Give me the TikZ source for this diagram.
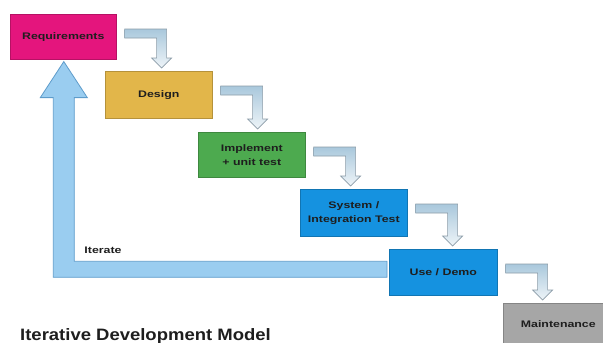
\documentclass[tikz,border=0pt]{standalone}
\usepackage{fontspec}
\usetikzlibrary{calc}
\newfontfamily\boxfont[FakeStretch=1.3]{Liberation Sans}
\newfontfamily\titlefont[FakeStretch=1.12]{Liberation Sans}
\definecolor{reqc}{HTML}{E4157D}
\definecolor{desc}{HTML}{E2B64A}
\definecolor{impc}{HTML}{4DAA4F}
\definecolor{sysc}{HTML}{1592E0}
\definecolor{mntc}{HTML}{A6A6A6}
\definecolor{arrtop}{HTML}{A9C8DC}
\definecolor{arrbot}{HTML}{EEF4F8}
\definecolor{arredge}{HTML}{8C9CA8}
\definecolor{itfill}{HTML}{9ACDF0}
\definecolor{itedge}{HTML}{5E9CCB}
\definecolor{txt}{HTML}{1E1E1E}
\tikzset{
  stagebox/.style={draw=#1!80!black, fill=#1, line width=0.6pt, anchor=north west,
    inner sep=0pt, align=center, text=txt,
    font=\boxfont\bfseries\fontsize{9.5}{14}\selectfont},
  flowarrow/.style={draw=arredge, line width=0.6pt, top color=arrtop, bottom color=arrbot},
  iterarrow/.style={draw=itedge, line width=0.8pt, fill=itfill},
  lbl/.style={text=txt, font=\boxfont\bfseries\fontsize{9.5}{11}\selectfont, inner sep=0pt}
}
\newcommand\bentarrow[2]{%
  \path[flowarrow] let \p1=(#1.north east), \p2=(#2.north) in
    (\x1+8pt,\y1-15pt) -- (\x1+50pt,\y1-15pt) -- (\x1+50pt,\y2+13pt)
    -- (\x1+55pt,\y2+13pt) -- (\x1+45pt,\y2+3pt) -- (\x1+35pt,\y2+13pt)
    -- (\x1+40pt,\y2+13pt) -- (\x1+40pt,\y1-24pt) -- (\x1+8pt,\y1-24pt) -- cycle;}
\begin{document}
\begin{tikzpicture}[x=1pt,y=-1pt]
\useasboundingbox (0,0) rectangle (603,343);
\fill[white] (0,0) rectangle (603,343);
% stages
\node[stagebox=reqc, minimum width=106pt, minimum height=45pt] (req) at (10,14) {Requirements};
\node[stagebox=desc, minimum width=107pt, minimum height=47pt] (des) at (105,71) {Design};
\node[stagebox=impc, minimum width=107pt, minimum height=45pt] (imp) at (198,132) {Implement\\+ unit test};
\node[stagebox=sysc, minimum width=107pt, minimum height=47pt] (sys) at (300,189) {System /\\Integration Test};
\node[stagebox=sysc, minimum width=108pt, minimum height=46pt] (use) at (389,249) {Use / Demo};
\node[stagebox=mntc, minimum width=110pt, minimum height=42pt] (mnt) at (503,303) {Maintenance};
% flow arrows
\bentarrow{req}{des}
\bentarrow{des}{imp}
\bentarrow{imp}{sys}
\bentarrow{sys}{use}
\bentarrow{use}{mnt}
% iterate arrow
\coordinate (tip) at ($(req.south)+(0.5,2)$);
\coordinate (hb) at ($(req.south)+(0.5,38)$);
\coordinate (barT) at ($(use.west)+(-2,-11)$);
\coordinate (barB) at ($(use.west)+(-2,5)$);
\path[iterarrow] (barT) -- ($(barT -| hb)+(10.5,0)$) -- ($(hb)+(10.5,0)$)
  -- ($(hb)+(23.5,0)$) -- (tip) -- ($(hb)+(-23.5,0)$) -- ($(hb)+(-10.5,0)$)
  -- ($(barB -| hb)+(-10.5,0)$) -- (barB) -- cycle;
\node[lbl] (iter) at (103,250) {Iterate};
\node[anchor=base west, inner sep=0pt, text=txt,
  font=\titlefont\bfseries\fontsize{16.5}{18}\selectfont] (title) at (20,340) {Iterative Development Model};
\end{tikzpicture}
\end{document}
